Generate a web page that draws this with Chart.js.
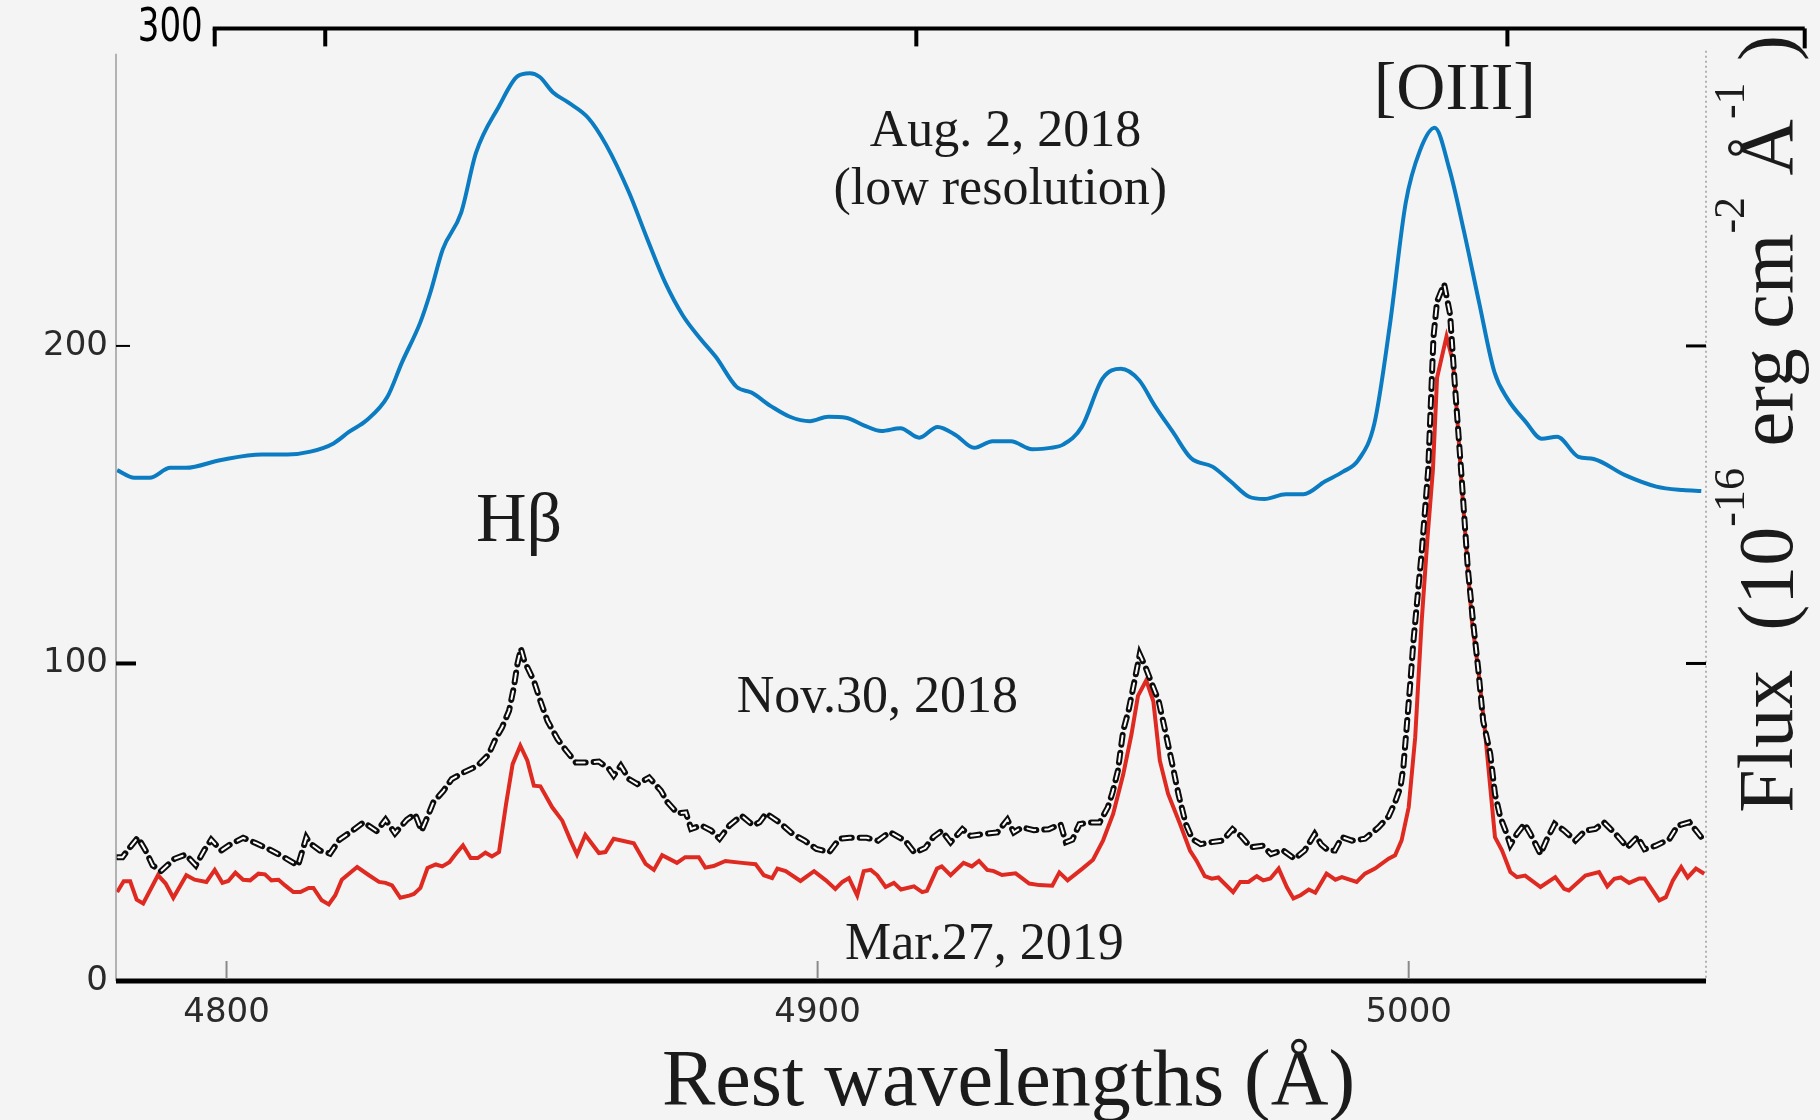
<!DOCTYPE html>
<html>
<head>
<meta charset="utf-8">
<title>Hβ – [OIII] spectra</title>
<script src="https://cdn.jsdelivr.net/npm/chart.js@4.4.0/dist/chart.umd.min.js"></script>
<style>
  html, body { margin: 0; padding: 0; background: #f4f4f4; }
  #wrap { width: 1820px; height: 1120px; }
</style>
</head>
<body>
<div id="wrap"><canvas id="spectra" width="1820" height="1120"></canvas></div>
<script>
// Aug. 2, 2018 (low resolution) - rest wavelength (Å) / flux
const augWave = [4781.5, 4784.4, 4787.0, 4790.5, 4793.1, 4799.1, 4806.0, 4810.3, 4814.2, 4818.1,
  4820.7, 4823.7, 4827.2, 4829.7, 4832.8, 4834.5, 4836.6, 4839.7, 4842.2, 4846.1,
  4849.2, 4851.3, 4853.0, 4855.2, 4857.8, 4861.2, 4864.2, 4868.1, 4871.2, 4874.2,
  4877.2, 4880.2, 4882.8, 4886.3, 4888.8, 4892.3, 4895.3, 4898.7, 4901.8, 4904.8,
  4907.8, 4910.8, 4914.0, 4917.2, 4920.3, 4923.4, 4926.5, 4929.6, 4932.7, 4936.3,
  4939.4, 4941.6, 4944.7, 4948.2, 4951.3, 4954.4, 4957.0, 4960.1, 4963.2, 4966.8,
  4969.9, 4973.0, 4975.6, 4979.2, 4982.2, 4985.8, 4988.9, 4991.5, 4994.2, 4996.8,
  4999.5, 5001.9, 5004.4, 5006.9, 5009.4, 5011.9, 5014.5, 5016.7, 5019.8, 5022.5,
  5025.1, 5028.7, 5031.3, 5036.6, 5041.9, 5046.4, 5049.5];
const augFlux = [160.9, 158.5, 158.5, 161.6, 161.6, 164.1, 165.8, 165.8, 166.7, 169.3,
  172.9, 176.6, 183.9, 194.9, 207.5, 216.9, 230.5, 242.0, 260.8, 275.5,
  284.9, 285.9, 284.7, 279.9, 276.7, 271.8, 263.4, 248.3, 233.6, 220.0,
  209.6, 202.2, 196.5, 187.1, 185.3, 180.8, 177.7, 176.3, 177.7, 177.4,
  175.0, 173.2, 174.1, 171.1, 174.5, 171.9, 167.9, 170.0, 170.0, 167.5,
  167.9, 169.0, 174.5, 189.7, 192.8, 189.2, 181.3, 172.9, 164.6, 162.0,
  157.3, 152.5, 151.8, 153.3, 153.3, 157.3, 160.4, 164.1, 175.6, 206.4,
  245.1, 261.5, 268.7, 255.6, 235.7, 213.8, 191.8, 183.4, 176.1, 170.8,
  171.4, 165.1, 164.4, 159.3, 155.7, 154.6, 154.3];

// Nov.30, 2018
const novWave = [4781.5, 4782.4, 4783.7, 4785.0, 4786.3, 4787.5, 4788.9, 4791.2, 4793.1, 4794.8,
  4796.2, 4797.4, 4799.1, 4800.8, 4802.8, 4805.0, 4807.6, 4809.5, 4812.1, 4813.5,
  4814.1, 4815.8, 4817.5, 4819.1, 4821.2, 4823.2, 4825.4, 4826.9, 4828.5, 4830.5,
  4831.9, 4833.0, 4834.2, 4835.0, 4836.7, 4838.1, 4840.1, 4842.4, 4844.3, 4845.5,
  4846.6, 4847.8, 4848.6, 4849.2, 4849.8, 4850.4, 4852.0, 4853.1, 4854.3, 4856.0,
  4857.4, 4859.1, 4860.8, 4863.0, 4864.7, 4865.5, 4866.7, 4868.1, 4869.5, 4871.5,
  4873.5, 4874.6, 4876.3, 4877.7, 4878.6, 4880.3, 4882.0, 4883.4, 4885.1, 4887.1,
  4889.1, 4890.2, 4891.3, 4893.5, 4895.8, 4897.8, 4899.8, 4902.0, 4903.7, 4905.4,
  4908.3, 4910.2, 4912.2, 4914.8, 4916.4, 4918.2, 4919.6, 4921.0, 4922.5, 4924.5,
  4925.9, 4928.1, 4930.4, 4932.1, 4933.2, 4934.6, 4936.6, 4939.1, 4941.1, 4942.0,
  4943.1, 4944.3, 4946.0, 4947.7, 4949.1, 4949.9, 4950.8, 4951.7, 4952.6, 4953.5,
  4954.5, 4955.4, 4956.6, 4957.7, 4958.8, 4960.0, 4961.1, 4962.3, 4963.4, 4964.8,
  4966.5, 4968.5, 4970.2, 4971.6, 4973.3, 4975.3, 4976.7, 4978.7, 4980.7, 4982.4,
  4984.1, 4985.2, 4986.4, 4987.5, 4988.7, 4990.4, 4992.6, 4994.9, 4996.6, 4997.7,
  4998.6, 4999.1, 4999.7, 5000.3, 5000.8, 5001.1, 5002.2, 5003.3, 5004.2, 5004.8,
  5006.0, 5007.0, 5007.8, 5008.9, 5010.0, 5010.9, 5011.8, 5012.6, 5013.8, 5014.6,
  5015.5, 5016.6, 5017.2, 5018.3, 5019.6, 5020.6, 5022.3, 5023.4, 5024.7, 5026.3,
  5028.2, 5029.9, 5031.6, 5033.0, 5035.0, 5037.0, 5038.7, 5039.9, 5041.8, 5044.1,
  5045.5, 5047.5, 5049.5];
const novFlux = [39.0, 39.0, 42.2, 45.2, 41.1, 36.4, 34.6, 38.5, 39.8, 36.4,
  41.1, 44.5, 41.1, 43.2, 45.1, 43.4, 41.1, 39.2, 36.4, 45.2,
  43.4, 41.1, 40.1, 44.5, 47.2, 50.0, 47.2, 50.8, 46.5, 50.8,
  52.6, 47.3, 52.6, 56.3, 59.9, 63.6, 65.7, 67.7, 71.2, 76.2,
  79.8, 85.1, 92.4, 99.7, 104.7, 100.7, 94.5, 88.2, 81.9, 76.2,
  72.7, 68.8, 68.8, 69.1, 66.8, 64.7, 67.8, 63.6, 62.0, 64.1,
  59.9, 56.3, 52.8, 53.1, 47.9, 49.0, 47.4, 44.8, 49.0, 52.1,
  49.0, 50.0, 52.8, 50.0, 46.3, 44.2, 41.6, 40.6, 44.8, 45.1,
  45.1, 44.2, 46.9, 44.2, 40.4, 41.9, 45.4, 47.3, 43.7, 47.8,
  45.7, 46.3, 46.8, 50.8, 46.8, 48.4, 47.5, 47.8, 49.4, 43.7,
  44.5, 49.4, 49.9, 49.9, 54.7, 59.4, 66.2, 78.8, 85.1, 93.4,
  102.9, 99.2, 93.4, 88.2, 78.8, 68.3, 58.4, 49.4, 44.7, 43.1,
  43.7, 44.2, 47.8, 45.7, 42.1, 42.6, 40.0, 41.2, 38.5, 41.1,
  46.3, 43.0, 41.1, 41.1, 45.3, 44.2, 44.8, 48.4, 51.8, 56.3,
  61.0, 67.3, 80.9, 94.5, 107.0, 113.0, 135.0, 161.0, 203.0, 214.0,
  219.5, 210.0, 188.0, 160.0, 130.0, 113.0, 97.6, 81.9, 71.5, 58.9,
  51.6, 46.3, 42.9, 46.3, 49.5, 46.3, 40.0, 44.7, 49.5, 47.4,
  44.2, 47.4, 47.9, 50.0, 46.3, 42.1, 45.4, 41.5, 42.6, 44.7,
  48.9, 50.0, 45.3];

// Mar.27, 2019
const marWave = [4781.5, 4782.6, 4783.7, 4784.8, 4785.9, 4788.4, 4789.7, 4791.0, 4793.2, 4794.6,
  4796.6, 4798.0, 4799.3, 4800.3, 4801.5, 4802.8, 4804.0, 4805.4, 4806.5, 4807.6,
  4808.8, 4809.9, 4811.3, 4812.5, 4813.9, 4814.7, 4816.1, 4817.3, 4818.4, 4819.5,
  4822.1, 4824.1, 4825.8, 4826.9, 4828.0, 4829.4, 4830.9, 4831.7, 4832.8, 4834.0,
  4835.4, 4836.5, 4837.7, 4838.8, 4840.0, 4841.3, 4842.5, 4843.8, 4844.9, 4846.1,
  4847.3, 4848.4, 4849.7, 4850.9, 4852.0, 4853.1, 4855.1, 4856.8, 4858.2, 4859.3,
  4860.7, 4863.0, 4864.1, 4865.5, 4868.9, 4870.9, 4872.3, 4873.7, 4876.2, 4877.6,
  4879.9, 4881.0, 4882.4, 4884.4, 4887.2, 4889.5, 4890.9, 4892.3, 4893.2, 4894.6,
  4897.1, 4899.4, 4901.4, 4903.0, 4904.2, 4905.3, 4906.7, 4907.8, 4909.0, 4910.1,
  4911.5, 4912.9, 4914.1, 4916.3, 4917.7, 4918.5, 4920.2, 4921.0, 4922.5, 4924.7,
  4926.1, 4927.3, 4928.7, 4929.8, 4931.2, 4933.5, 4935.8, 4937.5, 4939.7, 4940.9,
  4942.3, 4944.8, 4946.6, 4948.3, 4950.0, 4951.7, 4953.1, 4954.2, 4955.6, 4956.8,
  4957.9, 4959.3, 4961.3, 4963.0, 4964.1, 4965.5, 4966.7, 4967.8, 4970.3, 4971.5,
  4972.9, 4974.3, 4975.4, 4976.6, 4978.0, 4979.4, 4980.5, 4981.7, 4983.1, 4984.2,
  4986.1, 4987.6, 4988.7, 4991.2, 4992.6, 4994.3, 4996.6, 4997.7, 4998.8, 5000.0,
  5001.1, 5002.2, 5003.2, 5004.1, 5004.8, 5006.4, 5007.5, 5008.2, 5008.9, 5010.0,
  5010.7, 5011.8, 5012.9, 5014.6, 5015.8, 5017.2, 5018.3, 5019.7, 5022.3, 5024.8,
  5026.3, 5027.1, 5029.9, 5032.2, 5033.6, 5034.8, 5035.9, 5037.3, 5039.0, 5039.9,
  5042.4, 5043.5, 5044.7, 5046.1, 5047.2, 5048.6, 5050.0];
const marFlux = [28.0, 31.4, 31.4, 25.6, 24.4, 33.3, 30.7, 26.2, 33.3, 31.9,
  31.2, 35.0, 30.9, 31.5, 34.1, 31.9, 31.7, 33.8, 33.6, 31.7,
  31.9, 30.1, 28.0, 28.0, 29.3, 29.3, 25.4, 24.1, 27.0, 31.9,
  35.9, 33.3, 31.2, 30.9, 30.1, 26.2, 26.9, 27.4, 29.3, 35.6,
  36.7, 36.1, 37.4, 40.1, 42.7, 38.7, 38.7, 40.4, 39.2, 40.6,
  55.8, 68.3, 74.1, 69.4, 61.5, 61.3, 54.7, 50.5, 44.3, 39.8,
  46.0, 40.3, 40.6, 44.8, 43.4, 36.9, 35.0, 39.6, 37.2, 39.0,
  39.0, 35.7, 36.2, 37.8, 37.2, 36.8, 33.3, 32.4, 35.4, 34.6,
  31.5, 34.6, 31.7, 29.0, 31.2, 32.4, 26.9, 34.6, 35.0, 33.3,
  29.6, 30.9, 28.8, 29.8, 28.0, 28.4, 35.4, 36.1, 33.3, 37.2,
  36.1, 37.8, 35.0, 34.6, 33.4, 33.9, 30.7, 30.2, 30.0, 34.2,
  31.7, 35.4, 38.2, 44.3, 52.6, 65.0, 77.7, 89.8, 94.7, 88.1,
  69.4, 58.9, 49.5, 41.1, 37.9, 33.0, 32.2, 32.6, 28.0, 31.2,
  31.2, 33.0, 31.7, 32.3, 35.4, 29.5, 26.0, 27.0, 28.8, 27.8,
  33.8, 31.9, 32.7, 31.2, 33.8, 35.4, 38.5, 39.6, 44.3, 54.7,
  76.7, 113.3, 140.0, 161.0, 190.0, 203.0, 195.0, 178.0, 158.0, 130.0,
  113.3, 97.6, 78.8, 45.3, 41.1, 34.3, 32.7, 33.2, 29.6, 32.7,
  29.0, 28.5, 33.2, 34.3, 29.8, 32.2, 32.6, 30.9, 32.3, 32.3,
  25.4, 26.4, 31.7, 35.9, 32.6, 35.4, 33.8];

// axes
const waveMin = 4781.3;
const waveMax = 5050.3;
const xTicks = [4800, 4900, 5000];
const yTicks = [0, 100, 200];
const fluxMax = 300;

// text labels, anchored in data units (centre wavelength, baseline flux)
const noteText = ['Aug. 2, 2018', '(low resolution)', '[OIII]', 'Hβ', 'Nov.30, 2018', 'Mar.27, 2019'];
const noteWave = [4931.8, 4930.9, 5007.8, 4849.5, 4910.1, 4928.2];
const noteFlux = [263.0, 244.8, 274.5, 138.5, 84.6, 7.0];
const noteSize = [52, 52, 68, 70, 52, 52];

const serif = '"Liberation Serif", "Times New Roman", serif';
const sans = '"DejaVu Sans", sans-serif';

const toPoints = (xs, ys) => xs.map((v, i) => ({ x: v, y: ys[i] }));

function line(c, x1, y1, x2, y2) {
    c.beginPath();
    c.moveTo(x1, y1);
    c.lineTo(x2, y2);
    c.stroke();
}

// background, frame, ticks, titles and labels
const decorations = {
    id: 'decorations',
    beforeDraw(chart) {
        const c = chart.ctx;
        c.save();
        c.fillStyle = '#f4f4f4';
        c.fillRect(0, 0, chart.width, chart.height);
        c.restore();
    },
    afterDraw(chart) {
        const c = chart.ctx;
        const a = chart.chartArea;
        const x = chart.scales.x;
        const y = chart.scales.y;
        c.save();

        // left axis: thin grey line
        c.strokeStyle = '#9c9c9c';
        c.lineWidth = 1.5;
        line(c, a.left, y.getPixelForValue(292), a.left, a.bottom);
        // right axis: dotted
        c.setLineDash([2, 3]);
        line(c, a.right, y.getPixelForValue(293), a.right, a.bottom);
        c.setLineDash([]);

        // bottom axis
        c.strokeStyle = '#000';
        c.lineWidth = 5;
        line(c, a.left, a.bottom, a.right, a.bottom);

        // x ticks point up into the plot
        c.strokeStyle = '#8a8a8a';
        c.lineWidth = 2;
        xTicks.forEach(v => {
            const px = x.getPixelForValue(v);
            line(c, px, a.bottom - 2, px, a.bottom - 20);
        });

        // y ticks on both sides
        c.strokeStyle = '#000';
        c.lineWidth = 4;
        line(c, a.left, y.getPixelForValue(100), a.left + 20, y.getPixelForValue(100));
        c.lineWidth = 2;
        line(c, a.left, y.getPixelForValue(200), a.left + 14, y.getPixelForValue(200));
        c.lineWidth = 3;
        [100, 200].forEach(v => {
            const py = y.getPixelForValue(v);
            line(c, a.right - 20, py, a.right, py);
        });

        // top frame line, drawn offset to the right
        const shift = x.getPixelForValue(waveMin + 16.7) - x.getPixelForValue(waveMin);
        const topY = y.getPixelForValue(fluxMax);
        const tx0 = a.left + shift;
        const tx1 = a.right + shift;
        c.lineWidth = 4;
        line(c, tx0 - 2, topY, tx1, topY);
        line(c, tx0, topY, tx0, topY + 18);
        line(c, tx1, topY, tx1, topY + 20);
        xTicks.forEach(v => {
            const px = x.getPixelForValue(v) + shift;
            line(c, px, topY, px, topY + 18);
        });
        // "300" in a tall, narrow face
        c.save();
        c.fillStyle = '#000';
        c.font = '46px ' + sans;
        c.textAlign = 'right';
        c.textBaseline = 'middle';
        c.translate(tx0 - 12, topY + 1);
        c.scale(0.74, 1);
        c.fillText(String(fluxMax), 0, 0);
        c.restore();

        // annotations
        c.fillStyle = '#1b1b1b';
        c.textAlign = 'center';
        c.textBaseline = 'alphabetic';
        noteText.forEach((t, i) => {
            c.font = noteSize[i] + 'px ' + serif;
            c.fillText(t, x.getPixelForValue(noteWave[i]), y.getPixelForValue(noteFlux[i]));
        });

        // x title
        c.font = '80px ' + serif;
        c.fillText('Rest wavelengths (Å)', x.getPixelForValue(4932.3), chart.height - 15);

        // y title on the right, rotated, with superscripts
        const parts = [
            ['Flux  (10', false], ['-16', true], [' erg cm', false], ['-2', true],
            [' Å', false], ['-1', true], [' )', false]
        ];
        c.translate(a.right + 86, y.getPixelForValue(53));
        c.rotate(-Math.PI / 2);
        c.textAlign = 'left';
        let pos = 0;
        parts.forEach(([t, sup]) => {
            c.font = (sup ? '44px ' : '78px ') + serif;
            c.fillText(t, pos, sup ? -48 : 0);
            pos += c.measureText(t).width + (sup ? 2 : 0);
        });

        c.restore();
    }
};

const ctx = document.getElementById('spectra').getContext('2d');
new Chart(ctx, {
    type: 'line',
    data: {
        datasets: [
            {
                // hollow centre of the Nov.30 dashes
                label: 'Nov.30, 2018 inner',
                data: toPoints(novWave, novFlux),
                borderColor: '#ffffff',
                borderWidth: 2,
                borderDash: [8, 10],
                borderDashOffset: -1,
                borderCapStyle: 'round',
                pointRadius: 0,
                tension: 0
            },
            {
                label: 'Nov.30, 2018',
                data: toPoints(novWave, novFlux),
                borderColor: '#0c0c0c',
                borderWidth: 6,
                borderDash: [10, 8],
                borderCapStyle: 'round',
                pointRadius: 0,
                tension: 0
            },
            {
                label: 'Mar.27, 2019',
                data: toPoints(marWave, marFlux),
                borderColor: '#df2a22',
                borderWidth: 4,
                pointRadius: 0,
                tension: 0
            },
            {
                label: 'Aug. 2, 2018',
                data: toPoints(augWave, augFlux),
                borderColor: '#0b7cc2',
                borderWidth: 4,
                pointRadius: 0,
                cubicInterpolationMode: 'monotone'
            }
        ]
    },
    options: {
        responsive: false,
        animation: false,
        devicePixelRatio: 1,
        layout: { padding: { top: 25, right: 114, left: 0, bottom: 0 } },
        plugins: {
            legend: { display: false },
            tooltip: { enabled: false }
        },
        scales: {
            x: {
                type: 'linear',
                min: waveMin,
                max: waveMax,
                afterBuildTicks: s => { s.ticks = xTicks.map(v => ({ value: v })); },
                afterFit: s => { s.height = 139; },
                grid: { display: false, drawTicks: false },
                border: { display: false },
                ticks: {
                    padding: 12,
                    color: '#2a2a2a',
                    font: { family: 'DejaVu Sans', size: 34 },
                    maxRotation: 0,
                    autoSkip: false,
                    callback: v => String(v)
                }
            },
            y: {
                min: 0,
                max: fluxMax,
                afterBuildTicks: s => { s.ticks = yTicks.map(v => ({ value: v })); },
                afterFit: s => { s.width = 116; },
                grid: { display: false, drawTicks: false },
                border: { display: false },
                ticks: {
                    padding: 8,
                    color: '#2a2a2a',
                    font: { family: 'DejaVu Sans', size: 34 },
                    callback: v => String(v)
                }
            }
        }
    },
    plugins: [decorations]
});
</script>
</body>
</html>
